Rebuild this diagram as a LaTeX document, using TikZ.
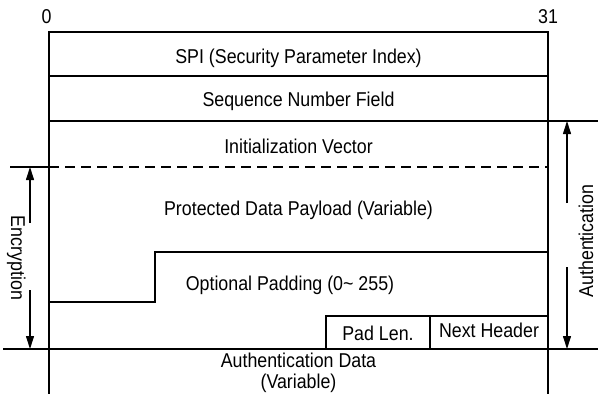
\documentclass[tikz,border=0pt]{standalone}
\usepackage{fontspec}
\setmainfont{Liberation Sans}[FakeStretch=0.89]
\usetikzlibrary{arrows.meta}
\begin{document}
\begin{tikzpicture}[x=1pt,y=-1pt,line width=1.4pt,
  lbl/.style={font=\fontsize{20}{20}\selectfont,inner sep=0pt,anchor=base},
  arr/.style={line width=1.1pt,-{Triangle[length=13pt,width=8pt]}},
  dsh/.style={dash pattern=on 10pt off 6pt}]
\useasboundingbox (0,0) rectangle (598,394);
% frame and fields
\coordinate (tl) at (49,32);
\coordinate (tr) at (548,32);
\draw (49,394) -- (tl) -- (tr) -- (548,394);
\draw (49,76) -- (548,76);
\draw (49,121) -- (598,121);
\draw (10,167) -- (49,167);
\draw[dsh] (49,167) -- (548,167);
\draw (49,302) -- (155,302) -- (155,252) -- (548,252);
\draw (326,349) -- (326,316) -- (548,316);
\draw (430,316) -- (430,349);
\draw (3,349) -- (598,349);
% labels
\node[lbl] (zero) at (46.5,23) {0};
\node[lbl] (thirtyone) at (548,23) {31};
\node[lbl] (spi) at (298.5,63) {SPI (Security Parameter Index)};
\node[lbl] (seq) at (298.5,106) {Sequence Number Field};
\node[lbl] (iv) at (298.5,153) {Initialization Vector};
\node[lbl] (pay) at (298.5,215) {Protected Data Payload (Variable)};
\node[lbl] (pad) at (290,290) {Optional Padding (0\textasciitilde{} 255)};
\node[lbl] (padlen) at (378,340) {Pad Len.};
\node[lbl] (nh) at (489,337) {Next Header};
\node[lbl] (ad) at (298.5,367) {Authentication Data};
\node[lbl] (adv) at (298.5,388) {(Variable)};
\node[lbl,rotate=-90] (enc) at (11,258) {Encryption};
\node[lbl,rotate=90] (auth) at (593,241) {Authentication};
% arrows
\coordinate (e1) at (30,223);
\coordinate (e2) at (30,167);
\coordinate (e3) at (30,290);
\coordinate (e4) at (30,349);
\coordinate (a1) at (567,203);
\coordinate (a2) at (567,121);
\coordinate (a3) at (567,267);
\coordinate (a4) at (567,349);
\draw[arr] (e1) -- (e2);
\draw[arr] (e3) -- (e4);
\draw[arr] (a1) -- (a2);
\draw[arr] (a3) -- (a4);
\end{tikzpicture}
\end{document}
